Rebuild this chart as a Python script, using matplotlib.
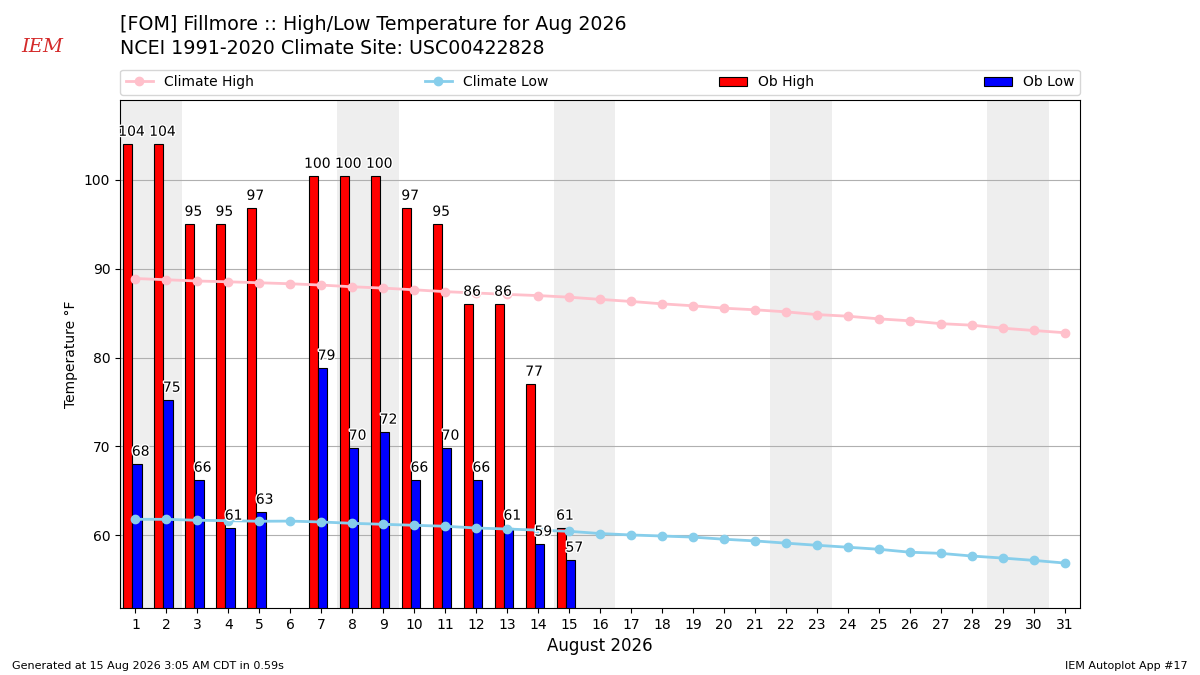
import numpy as np
import matplotlib
matplotlib.use("Agg")
import matplotlib.pyplot as plt
import matplotlib.patheffects as pe

days = np.arange(1, 32)
# observed values (F), day 6 missing, nothing after the 15th
ob_high = [104, 104, 95, 95, 96.8, np.nan, 100.4, 100.4, 100.4, 96.8, 95, 86, 86, 77, 60.8]
ob_low = [68, 75.2, 66.2, 60.8, 62.6, np.nan, 78.8, 69.8, 71.6, 66.2, 69.8, 66.2, 60.8, 59, 57.2]
clim_high = [88.9, 88.76, 88.62, 88.53, 88.42, 88.31, 88.16, 87.97, 87.82, 87.63,
             87.42, 87.27, 87.11, 86.98, 86.8, 86.55, 86.32, 86.05, 85.83, 85.56,
             85.38, 85.15, 84.84, 84.66, 84.36, 84.14, 83.82, 83.65, 83.31, 83.05, 82.8]
clim_low = [61.8, 61.8, 61.69, 61.65, 61.58, 61.6, 61.5, 61.35, 61.24, 61.13,
            61.02, 60.82, 60.71, 60.58, 60.45, 60.2, 60.04, 59.92, 59.8, 59.56,
            59.37, 59.12, 58.88, 58.66, 58.43, 58.1, 57.97, 57.67, 57.44, 57.18, 56.88]
weekends = [(1, 2), (8, 9), (15, 16), (22, 23), (29, 30)]

fig = plt.figure(figsize=(12, 6.75), dpi=100)
ax = fig.add_axes([0.1, 0.099, 0.8, 0.753])

for d0, d1 in weekends:
    ax.axvspan(d0 - 0.5, d1 + 0.5, color="#eeeeee", zorder=0, lw=0)

obs_days = days[:len(ob_high)]
ax.bar(obs_days - 0.4, ob_high, width=0.3, align="edge", color="red",
       edgecolor="black", linewidth=0.8, label="Ob High", zorder=2)
ax.bar(obs_days - 0.1, ob_low, width=0.3, align="edge", color="blue",
       edgecolor="black", linewidth=0.8, label="Ob Low", zorder=2)

ax.plot(days, clim_high, color="pink", marker="o", ms=6, lw=2,
        label="Climate High", zorder=3)
ax.plot(days, clim_low, color="skyblue", marker="o", ms=6, lw=2,
        label="Climate Low", zorder=3)

stroke = [pe.withStroke(linewidth=2, foreground="white")]
for d, hi, lo in zip(obs_days, ob_high, ob_low):
    if np.isnan(hi):
        continue
    ax.annotate(f"{hi:.0f}", (d - 0.13, hi), xytext=(0, 4), textcoords="offset points",
                ha="center", va="bottom", fontsize=10, zorder=5, path_effects=stroke)
    ax.annotate(f"{lo:.0f}", (d + 0.17, lo), xytext=(0, 4), textcoords="offset points",
                ha="center", va="bottom", fontsize=10, zorder=5, path_effects=stroke)

ax.set_xlim(0.5, 31.5)
ax.set_ylim(51.8, 109)
ax.set_xticks(days)
ax.set_yticks([60, 70, 80, 90, 100])
ax.yaxis.grid(True, color="#b0b0b0", lw=0.8)
ax.set_axisbelow(True)
ax.set_xlabel("August 2026", fontsize=12)
ax.set_ylabel("Temperature °F")

handles, labels = ax.get_legend_handles_labels()
order = [labels.index(n) for n in ["Climate High", "Climate Low", "Ob High", "Ob Low"]]
ax.legend([handles[i] for i in order], [labels[i] for i in order], ncol=4,
          mode="expand", loc="lower left", bbox_to_anchor=(0, 1.01, 1, 0.05),
          borderaxespad=0, fontsize=10)

fig.text(0.1, 1 - 15 / 675, "[FOM] Fillmore :: High/Low Temperature for Aug 2026",
         fontsize=13.7, va="top")
fig.text(0.1, 1 - 39 / 675, "NCEI 1991-2020 Climate Site: USC00422828",
         fontsize=13.7, va="top")
fig.text(0.018, 1 - 52 / 675, "IEM", color="#d42a2a", fontsize=14,
         family="DejaVu Serif", style="italic")
fig.text(0.01, 0.009, "Generated at 15 Aug 2026 3:05 AM CDT in 0.59s", fontsize=8)
fig.text(0.99, 0.009, "IEM Autoplot App #17", fontsize=8, ha="right")

fig.savefig("out.png")
